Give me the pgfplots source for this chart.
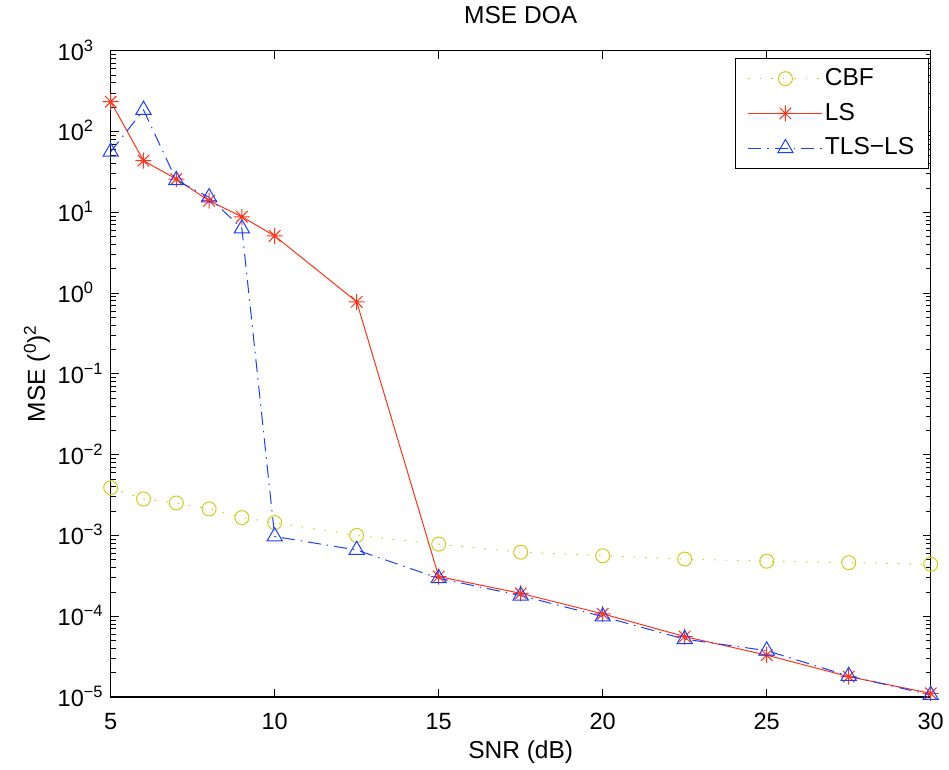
\documentclass[border=0pt]{standalone}
\usepackage{fontspec}
\setmainfont{Liberation Sans}
\usepackage{pgfplots}
\pgfplotsset{compat=1.18}
\definecolor{cbf}{rgb}{0.82,0.8,0.1}
\definecolor{lsred}{rgb}{1,0.2,0.1}
\definecolor{tlsblue}{rgb}{0.1,0.25,1}
\pgfdeclareplotmark{mstar}{%
  \pgfpathmoveto{\pgfqpoint{0pt}{\pgfplotmarksize}}\pgfpathlineto{\pgfqpoint{0pt}{-\pgfplotmarksize}}%
  \pgfpathmoveto{\pgfqpoint{\pgfplotmarksize}{0pt}}\pgfpathlineto{\pgfqpoint{-\pgfplotmarksize}{0pt}}%
  \pgfpathmoveto{\pgfqpoint{0.72\pgfplotmarksize}{0.72\pgfplotmarksize}}\pgfpathlineto{\pgfqpoint{-0.72\pgfplotmarksize}{-0.72\pgfplotmarksize}}%
  \pgfpathmoveto{\pgfqpoint{0.72\pgfplotmarksize}{-0.72\pgfplotmarksize}}\pgfpathlineto{\pgfqpoint{-0.72\pgfplotmarksize}{0.72\pgfplotmarksize}}%
  \pgfusepathqstroke}
\begin{document}
\fontsize{24.5}{29}\selectfont
\begin{tikzpicture}
\begin{axis}[
  scale only axis, width=820pt, height=646.3pt,
  ymode=log, xmin=5, xmax=30, ymin=1e-5, ymax=1e3,
  /pgf/number format/assume math mode=true,
  xtick={5,10,15,20,25,30},
  ytick={1e-5,1e-4,1e-3,1e-2,1e-1,1e0,1e1,1e2,1e3},
  yticklabels={10\textsuperscript{−5},10\textsuperscript{−4},10\textsuperscript{−3},10\textsuperscript{−2},10\textsuperscript{−1},10\textsuperscript{0},10\textsuperscript{1},10\textsuperscript{2},10\textsuperscript{3}},
  minor ytick={2e-5,3e-5,4e-5,5e-5,6e-5,7e-5,8e-5,9e-5,
    2e-4,3e-4,4e-4,5e-4,6e-4,7e-4,8e-4,9e-4,
    2e-3,3e-3,4e-3,5e-3,6e-3,7e-3,8e-3,9e-3,
    2e-2,3e-2,4e-2,5e-2,6e-2,7e-2,8e-2,9e-2,
    0.2,0.3,0.4,0.5,0.6,0.7,0.8,0.9,
    2,3,4,5,6,7,8,9,
    20,30,40,50,60,70,80,90,
    200,300,400,500,600,700,800,900},
  xtick pos=both, ytick pos=both,
  tick align=inside,
  major tick length=8pt, minor tick length=5pt,
  every tick/.style={black, line width=0.8pt},
  axis line style={black, line width=1.3pt},
  tick label style={font=\fontsize{23.5}{28}\selectfont},
  every x tick label/.append style={anchor=base, inner sep=0pt, yshift=-32pt},
  every y tick label/.append style={anchor=base west, inner sep=0pt, xshift=-53.2pt, yshift=-9.5pt},
  title={MSE DOA},
  title style={at={(0.5,1)}, anchor=base, inner sep=0pt, yshift=20.7pt},
  xlabel={SNR (dB)},
  xlabel style={at={(0.5,0)}, anchor=base, inner sep=0pt, yshift=-61pt},
  ylabel={MSE (\textsuperscript{0})\textsuperscript{2}},
  ylabel style={at={(0,0.5)}, anchor=base, inner sep=0pt, yshift=65.7pt},
  legend style={at={(rel axis cs:0.9975,0.989)}, anchor=north east, draw=black, line width=1pt,
    font=\fontsize{24.5}{29}\selectfont, row sep=10pt, inner xsep=12pt, inner ysep=8pt},
  legend cell align=left,
  every odd column/.append style={column sep=9pt},
  legend image code/.code={\draw[mark repeat=2,mark phase=2] plot coordinates {(0pt,0pt) (37pt,0pt) (74pt,0pt)};},
]
\addplot[color=cbf, line width=1pt, dash pattern=on 1.5pt off 10pt, mark=o, mark size=7pt, mark options={solid, line width=1pt}]
coordinates {(5,3.9e-3) (6,2.83e-3) (7,2.52e-3) (8,2.13e-3) (9,1.66e-3) (10,1.44e-3) (12.5,1.0e-3) (15,7.8e-4) (17.5,6.2e-4) (20,5.6e-4) (22.5,5.1e-4) (25,4.8e-4) (27.5,4.6e-4) (30,4.4e-4)};
\addlegendentry{CBF}
\addplot[color=lsred, line width=1pt, solid, mark=mstar, mark size=8pt, mark options={solid, line width=1pt}]
coordinates {(5,234) (6,43.5) (7,25.8) (8,13.9) (9,8.8) (10,5.1) (12.5,0.78) (15,3.1e-4) (17.5,1.92e-4) (20,1.07e-4) (22.5,5.6e-5) (25,3.3e-5) (27.5,1.79e-5) (30,1.11e-5)};
\addlegendentry{LS}
\addplot[color=tlsblue, line width=1pt, dash pattern=on 13pt off 6pt on 1.5pt off 6pt, mark=triangle, mark size=8.8pt, mark options={solid, line width=1pt}]
coordinates {(5,56) (6,185) (7,25) (8,15.3) (9,6.3) (10,9.7e-4) (12.5,6.6e-4) (15,2.95e-4) (17.5,1.8e-4) (20,9.9e-5) (22.5,5.2e-5) (25,3.75e-5) (27.5,1.82e-5) (30,1.06e-5)};
\addlegendentry{TLS−LS}
\end{axis}
\path ([shift={(-110.7pt,-72pt)}]current axis.south west) rectangle ([shift={(18.3pt,50.7pt)}]current axis.north east);
\end{tikzpicture}
\end{document}
